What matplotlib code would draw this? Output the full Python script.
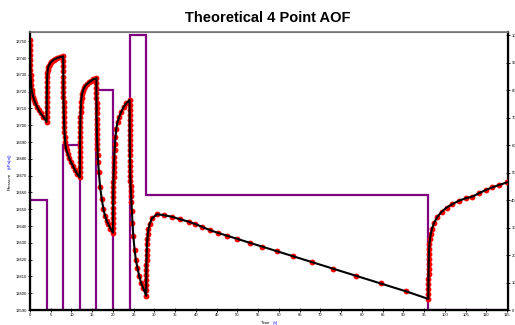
import numpy as np
import matplotlib
matplotlib.use("Agg")
import matplotlib.pyplot as plt

plt.rcParams['font.family'] = ['Liberation Sans', 'DejaVu Sans']

# rate schedule (right axis)
rate_times = [0, 4, 8, 12, 16, 20, 24, 28, 96, 115]
rate_values = [40, 0, 60, 0, 80, 0, 100, 42, 0]

# pressure response, read per flow period
t_p1 = [0, 0.01, 0.02, 0.03, 0.05, 0.07, 0.1, 0.14, 0.2, 0.28, 0.4, 0.55, 0.75, 1.0, 1.3, 1.7, 2.1, 2.6, 3.2, 4.0]
p_p1 = [13751, 13748, 13745, 13742, 13739, 13736, 13733, 13730, 13727, 13724, 13721, 13719, 13717, 13715, 13713,
        13711, 13709, 13707, 13705, 13702]

t_p2 = [4.005, 4.01, 4.02, 4.03, 4.045, 4.06, 4.08, 4.11, 4.15, 4.2, 4.28, 4.4, 4.55, 4.75, 5.0, 5.3, 5.7, 6.1,
        6.6, 7.2, 8.0]
p_p2 = [13705, 13708, 13711, 13714, 13717, 13720, 13723, 13726, 13729, 13731, 13733, 13734.5, 13735.5, 13736.5,
        13737.5, 13738, 13739, 13739.5, 13740, 13740.5, 13741]

t_p3 = [8.005, 8.01, 8.015, 8.02, 8.03, 8.04, 8.05, 8.065, 8.08, 8.1, 8.13, 8.16, 8.2, 8.25, 8.3, 8.38, 8.48,
        8.6, 8.8, 9.1, 9.45, 9.85, 10.3, 10.8, 11.4, 12.0]
p_p3 = [13738, 13735, 13732, 13729, 13726, 13723, 13720, 13717, 13714, 13711, 13708, 13705, 13702, 13699, 13696,
        13693, 13690, 13687, 13685, 13683, 13680.5, 13678, 13676, 13673.5, 13671, 13669]

t_p4 = [12.005, 12.01, 12.015, 12.02, 12.03, 12.04, 12.05, 12.065, 12.08, 12.1, 12.13, 12.16, 12.2, 12.25,
        12.32, 12.42, 12.55, 12.75, 13.0, 13.35, 13.75, 14.2, 14.7, 15.3, 16.0]
p_p4 = [13672, 13675, 13678, 13681, 13684, 13687, 13690, 13693, 13696, 13699, 13702, 13705, 13708, 13711,
        13714, 13716.5, 13718.5, 13720.5, 13722, 13723.5, 13724.5, 13725.5, 13726.5, 13727.3, 13728]

t_p5 = [16.005, 16.01, 16.015, 16.02, 16.03, 16.04, 16.05, 16.065, 16.08, 16.1, 16.13, 16.16, 16.2, 16.25,
        16.32, 16.42, 16.6, 16.9, 17.3, 17.7, 18.1, 18.5, 18.9, 19.4, 20.0]
p_p5 = [13725, 13722, 13719, 13716, 13713, 13710, 13707, 13704, 13701, 13698, 13695, 13692, 13689, 13686,
        13682, 13678, 13672, 13663, 13656, 13650, 13646, 13643, 13641, 13638.5, 13636]

t_p6 = [20.005, 20.01, 20.015, 20.02, 20.03, 20.04, 20.05, 20.065, 20.08, 20.1, 20.13, 20.16, 20.2, 20.25,
        20.3, 20.38, 20.48, 20.6, 20.8, 21.1, 21.5, 22.0, 22.6, 23.2, 24.0]
p_p6 = [13639, 13642, 13645, 13648, 13651, 13654, 13657, 13660, 13663, 13666, 13669, 13672, 13675, 13678,
        13681, 13685, 13689, 13693, 13698, 13702, 13705, 13708, 13711, 13713, 13715]

t_p7 = [24.003, 24.006, 24.01, 24.015, 24.02, 24.025, 24.03, 24.04, 24.05, 24.06, 24.075, 24.09, 24.11, 24.13,
        24.16, 24.2, 24.25, 24.3, 24.37, 24.45, 24.55, 24.7, 24.9, 25.2, 25.5, 25.9, 26.3, 26.8, 27.3, 28.0]
p_p7 = [13712, 13709, 13706, 13703, 13700, 13697, 13694, 13691, 13688, 13685, 13682, 13679, 13676, 13673,
        13670, 13667, 13664, 13661, 13658, 13654, 13649, 13642, 13634, 13626, 13620, 13615, 13610.5, 13606,
        13603, 13598.5]

t_p8 = [28.005, 28.01, 28.02, 28.03, 28.045, 28.06, 28.08, 28.11, 28.15, 28.2, 28.28, 28.4, 28.55, 28.8, 29.4,
        30.6, 32.2, 34.2, 36.2, 38.2, 39.8, 41.4, 43.3, 45.2, 47.5, 50, 53, 56, 59.5, 63.5, 68, 73, 78.5, 84.5,
        90.5, 96.0]
p_p8 = [13602, 13605, 13608, 13611, 13614, 13617, 13620, 13623, 13626, 13629, 13632, 13635, 13638, 13641,
        13644.5, 13647, 13646.5, 13645.5, 13644, 13642.6, 13641.2, 13639.6, 13637.6, 13636, 13634.2, 13632.3,
        13630, 13627.7, 13625, 13621.9, 13618.5, 13614.6, 13610.4, 13605.8, 13601.2, 13596.6]

t_p9 = [96.005, 96.01, 96.02, 96.03, 96.045, 96.06, 96.08, 96.11, 96.15, 96.2, 96.28, 96.4, 96.6, 96.9, 97.4,
        98.2, 99.2, 100.4, 101.8, 103.3, 105.0, 106.6, 108.2, 109.8, 111.4, 113.0, 115.0]
p_p9 = [13599.5, 13602.5, 13605.5, 13608.5, 13611.5, 13614.5, 13617.5, 13620.5, 13623.5, 13626.5, 13629.5,
        13632.5, 13635.5, 13638.5, 13642, 13645.5, 13648.5, 13651, 13653, 13655, 13656.5, 13657.5, 13659.5,
        13661.4, 13663, 13664.4, 13666]

time_h = np.concatenate([t_p1, t_p2, t_p3, t_p4, t_p5, t_p6, t_p7, t_p8, t_p9])
pressure = np.concatenate([p_p1, p_p2, p_p3, p_p4, p_p5, p_p6, p_p7, p_p8, p_p9])

fig = plt.figure(figsize=(5.15, 3.25), dpi=100)
ax = fig.add_axes([30 / 515, 15 / 325, 478 / 515, 278 / 325])
ax2 = ax.twinx()

# rate as a step line on the right axis
ax2.stairs(rate_values, rate_times, color='#800080', linewidth=1.6, baseline=None)
ax2.set_ylim(0, 101.1)
ax2.set_yticks(np.arange(0, 101, 10))

# pressure: red markers with black line on top
ax.plot(time_h, pressure, 'o', color='red', markersize=4.2, markeredgewidth=0, zorder=2)
ax.plot(time_h, pressure, color='black', linewidth=1.5, zorder=3)
ax.set_xlim(0, 115.2)
ax.set_ylim(13590, 13755.5)
ax.set_xticks(np.arange(0, 116, 5))
ax.set_yticks(np.arange(13590, 13751, 10))

ax.set_zorder(ax2.get_zorder() + 1)
ax.patch.set_visible(False)

for a in (ax, ax2):
    a.tick_params(labelsize=3, length=2.5, width=0.6, pad=1.2, direction='inout')
ax.spines['left'].set_linewidth(1.6)
ax.spines['bottom'].set_linewidth(1.6)
ax2.spines['right'].set_linewidth(1.6)
ax.spines['top'].set_color('#777777')
ax2.spines['top'].set_color('#777777')
ax.spines['top'].set_linewidth(1.2)

fig.text(0.519, 1 - 18 / 325, 'Theoretical 4 Point AOF', ha='center', va='center', fontsize=10.5, fontweight='bold')

# axis titles, unit part in blue
fig.text(10 / 515, 1 - 181 / 325, 'Pressure', rotation=90, ha='center', va='center', fontsize=3.2)
fig.text(10 / 515, 1 - 161 / 325, '(kPa(a))', rotation=90, ha='center', va='center', fontsize=3.2, color='blue')
fig.text(266 / 515, 1 - 323 / 325, 'Time', ha='center', va='center', fontsize=3.2)
fig.text(275 / 515, 1 - 323 / 325, '(h)', ha='center', va='center', fontsize=3.2, color='blue')

fig.savefig('out.png', dpi=100)
